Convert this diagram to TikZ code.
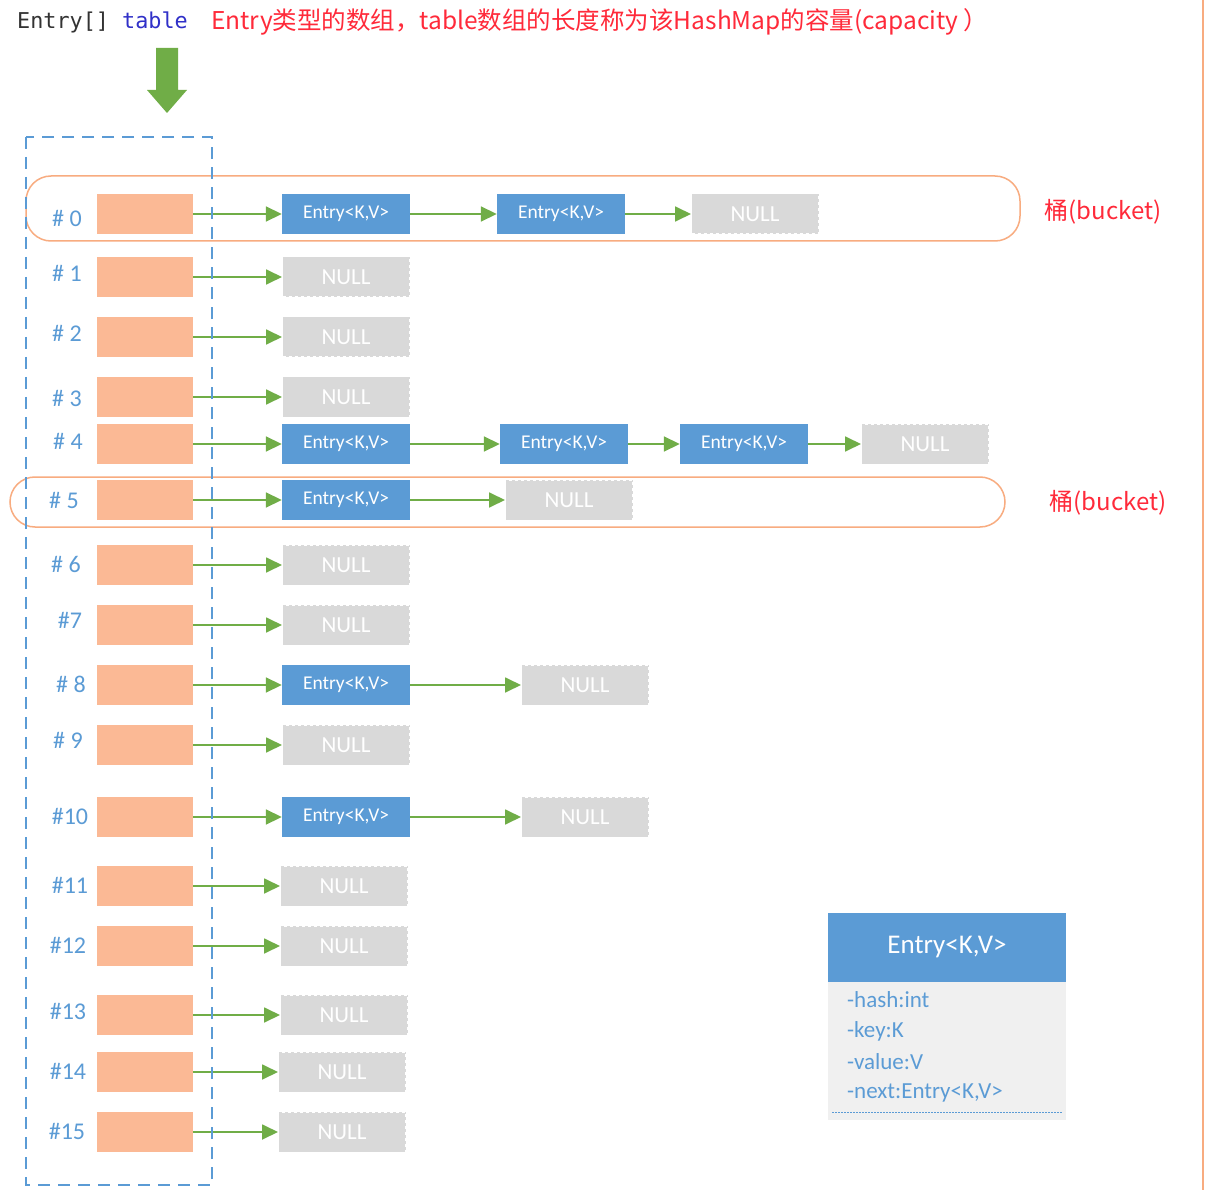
\documentclass[tikz,border=0pt]{standalone}
\usepackage{fontspec}
\setmainfont{Carlito}
\newfontfamily\cjk{Noto Sans CJK SC}
\setmonofont{DejaVu Sans Mono}
\usetikzlibrary{arrows.meta}
\definecolor{slot}{HTML}{FBB995}
\definecolor{entryblue}{HTML}{5B9BD5}
\definecolor{nullgray}{HTML}{D9D9D9}
\definecolor{arrowgreen}{HTML}{70AD47}
\definecolor{bucketorange}{HTML}{F8AC80}
\definecolor{redtext}{HTML}{FF2A3A}
\definecolor{labelblue}{HTML}{5B9BD5}
\definecolor{codeblue}{HTML}{3030C8}
\definecolor{codedark}{HTML}{333333}
\definecolor{legendbody}{HTML}{F0F0F0}
\tikzset{
  slotbox/.style={fill=slot, minimum width=96pt, minimum height=40pt, inner sep=0pt},
  entrybox/.style={fill=entryblue, text=white, minimum width=128pt, minimum height=40pt, inner sep=0pt, font=\fontsize{19.5}{22}\selectfont},
  nullbox/.style={fill=nullgray, draw=white, dash pattern=on 3pt off 3pt, line width=1pt, text=white, minimum width=127pt, minimum height=40pt, inner sep=0pt, font=\fontsize{23}{26}\selectfont},
  link/.style={draw=arrowgreen, line width=1.8pt, -{Triangle[length=16pt,width=15pt]}},
  idx/.style={text=labelblue, font=\fontsize{24}{28}\selectfont, inner sep=0pt},
  bucket/.style={draw=bucketorange, line width=1.5pt, rounded corners=25pt},
  bucketlabel/.style={text=redtext, font=\cjk\fontsize{24}{28}\selectfont, inner sep=0pt},
  legendline/.style={text=labelblue, font=\fontsize{23}{26}\selectfont, inner sep=0pt, anchor=west},
}
\begin{document}
\begin{tikzpicture}[x=1pt,y=-1pt]
\useasboundingbox (0,0) rectangle (1208,1190);
\fill[white] (0,0) rectangle (1208,1190);
% right edge line
\draw[bucketorange, line width=1.5pt] (1203,0) -- (1203,1190);
% header
\node[anchor=west, inner sep=0pt, font=\ttfamily\fontsize{21.8}{26}\selectfont] (hdr) at (17,22) {\textcolor{codedark}{Entry[]} \textcolor{codeblue}{table}};
\node[anchor=west, inner sep=0pt, text=redtext, font=\cjk\fontsize{24.5}{28}\selectfont] (cap) at (211,22) {Entry类型的数组，table数组的长度称为该HashMap的容量(capacity ）};
% big arrow
\fill[arrowgreen] (156,48) -- (178,48) -- (178,90) -- (187,90) -- (167,113) -- (147,90) -- (156,90) -- cycle;
% buckets
\draw[bucket] (26,176) rectangle (1020,241);
\draw[bucket] (10,477) rectangle (1005,527);
\node[bucketlabel] (b0) at (1103,212) {桶(bucket)};
\node[bucketlabel] (b5) at (1108,503) {桶(bucket)};
% slots and labels
\foreach \i/\y/\t/\lx/\ly in {0/214/{\# 0}/67/218, 1/277/{\# 1}/67/273, 2/337/{\# 2}/67/333, 3/397/{\# 3}/67/398, 4/444/{\# 4}/68/441, 5/500/{\# 5}/64/500, 6/565/{\# 6}/66/564, 7/625/{\#7}/70/620, 8/685/{\# 8}/71/684, 9/745/{\# 9}/68/740, 10/817/{\#10}/70/816, 11/886/{\#11}/70/885, 12/946/{\#12}/68/945, 13/1015/{\#13}/68/1011, 14/1072/{\#14}/68/1071, 15/1132/{\#15}/67/1131}{
  \node[slotbox] (s\i) at (145,\y) {};
  \node[idx] (l\i) at (\lx,\ly) {\t};
}
% chains
\node[entrybox] (e0a) at (346,214) {Entry<K,V>};
\node[entrybox] (e0b) at (561,214) {Entry<K,V>};
\node[nullbox] (n0) at (755,214) {NULL};
\draw[link] (s0) -- (e0a);
\draw[link] (e0a) -- (e0b);
\draw[link] (e0b) -- (n0);

\node[nullbox] (n1) at (346,277) {NULL};
\draw[link] (s1) -- (n1);
\node[nullbox] (n2) at (346,337) {NULL};
\draw[link] (s2) -- (n2);
\node[nullbox] (n3) at (346,397) {NULL};
\draw[link] (s3) -- (n3);

\node[entrybox] (e4a) at (346,444) {Entry<K,V>};
\node[entrybox] (e4b) at (564,444) {Entry<K,V>};
\node[entrybox] (e4c) at (744,444) {Entry<K,V>};
\node[nullbox] (n4) at (925,444) {NULL};
\draw[link] (s4) -- (e4a);
\draw[link] (e4a) -- (e4b);
\draw[link] (e4b) -- (e4c);
\draw[link] (e4c) -- (n4);

\node[entrybox] (e5a) at (346,500) {Entry<K,V>};
\node[nullbox] (n5) at (569,500) {NULL};
\draw[link] (s5) -- (e5a);
\draw[link] (e5a) -- (n5);

\node[nullbox] (n6) at (346,565) {NULL};
\draw[link] (s6) -- (n6);
\node[nullbox] (n7) at (346,625) {NULL};
\draw[link] (s7) -- (n7);

\node[entrybox] (e8a) at (346,685) {Entry<K,V>};
\node[nullbox] (n8) at (585,685) {NULL};
\draw[link] (s8) -- (e8a);
\draw[link] (e8a) -- (n8);

\node[nullbox] (n9) at (346,745) {NULL};
\draw[link] (s9) -- (n9);

\node[entrybox] (e10a) at (346,817) {Entry<K,V>};
\node[nullbox] (n10) at (585,817) {NULL};
\draw[link] (s10) -- (e10a);
\draw[link] (e10a) -- (n10);

\node[nullbox] (n11) at (344,886) {NULL};
\draw[link] (s11) -- (n11);
\node[nullbox] (n12) at (344,946) {NULL};
\draw[link] (s12) -- (n12);
\node[nullbox] (n13) at (344,1015) {NULL};
\draw[link] (s13) -- (n13);
\node[nullbox] (n14) at (342,1072) {NULL};
\draw[link] (s14) -- (n14);
\node[nullbox] (n15) at (342,1132) {NULL};
\draw[link] (s15) -- (n15);

% dashed table frame
\draw[labelblue, line width=1.5pt, dash pattern=on 12pt off 8pt] (26,137) rectangle (212,1185);

% legend
\fill[legendbody] (828,980) rectangle (1066,1120);
\node[fill=entryblue, text=white, minimum width=238pt, minimum height=69pt, inner sep=0pt, font=\fontsize{27}{30}\selectfont] (lt) at (947,947) {Entry<K,V>};
\node[legendline] (f1) at (847,1000) {-hash:int};
\node[legendline] (f2) at (847,1031) {-key:K};
\node[legendline] (f3) at (847,1062) {-value:V};
\node[legendline] (f4) at (847,1093) {-next:Entry<K,V>};
\draw[labelblue, line width=0.8pt, dash pattern=on 2pt off 1pt] (832,1112) -- (1062,1112);
\end{tikzpicture}
\end{document}
